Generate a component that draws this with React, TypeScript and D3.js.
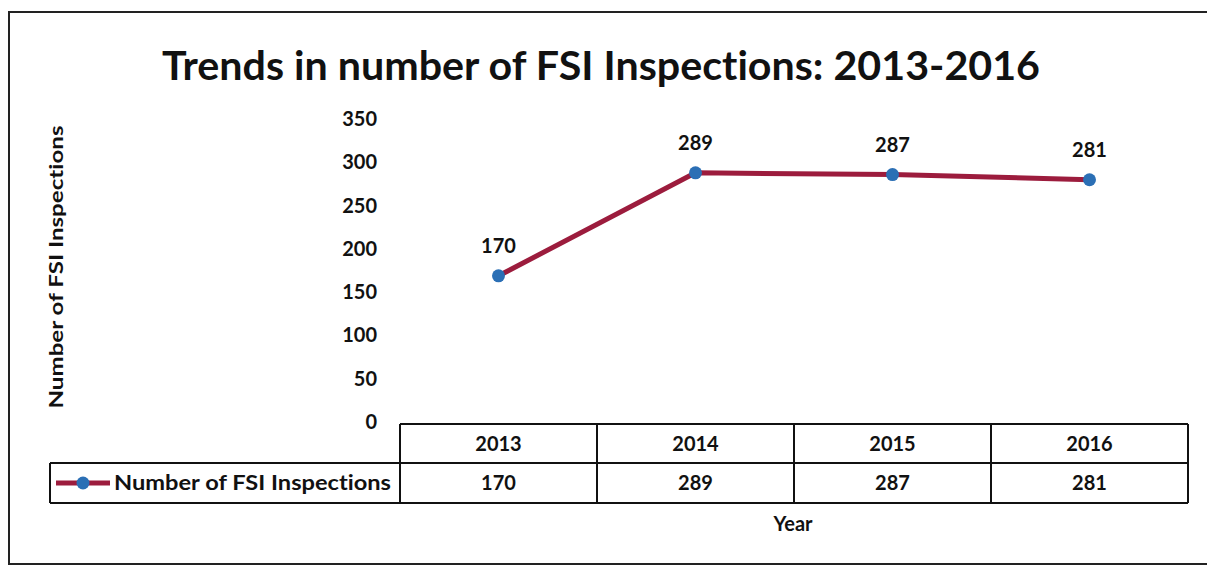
import React from "react";
import * as d3 from "d3";

const years = ["2013", "2014", "2015", "2016"];
const inspections = [170, 289, 287, 281];
const yTicks = [0, 50, 100, 150, 200, 250, 300, 350];
const seriesName = "Number of FSI Inspections";
const title = "Trends in number of FSI Inspections: 2013-2016";
const yTitle = "Number of FSI Inspections";
const xTitle = "Year";

const W = 1207;
const H = 566;
const FONT = "Lato, 'Open Sans', sans-serif";
const LINE = "#9c1c3d";
const MARK = "#2b6fb5";
const FS = 20;

export default function App() {
  const x = d3.scaleBand<string>().domain(years).range([400, 1188]);
  const y = d3.scaleLinear().domain([0, 350]).range([423, 120]);
  const cx = (d: string) => (x(d) as number) + x.bandwidth() / 2;
  const pts = years.map((yr, i) => [cx(yr), y(inspections[i])] as [number, number]);
  const path = d3.line()(pts) || "";
  const tTop = 424, tMid = 463, tBot = 503, legL = 50;

  return (
    <svg width={W} height={H} style={{ position: "absolute", left: 0, top: 0, background: "#fff", fontVariantLigatures: "none", fontFeatureSettings: "'liga' 0" }} fontFamily={FONT}>
      <rect x={0} y={0} width={W} height={H} fill="#fff" />
      <rect x={9} y={12} width={1230} height={552} fill="none" stroke="#222" strokeWidth={2} />
      <text x={601} y={80} textAnchor="middle" fontSize={41} fontWeight="bold" fill="#111" textLength={878} lengthAdjust="spacingAndGlyphs">{title}</text>
      <text transform="translate(63,267) rotate(-90)" textAnchor="middle" fontSize={19} fontWeight="bold" fill="#111" textLength={283} lengthAdjust="spacingAndGlyphs">{yTitle}</text>
      {yTicks.map((t) => (
        <text key={t} x={377} y={y(t) + 6} textAnchor="end" fontSize={FS} fontWeight="bold" fill="#111">{t}</text>
      ))}
      <path d={path} fill="none" stroke={LINE} strokeWidth={5} strokeLinejoin="round" />
      {pts.map((p, i) => (
        <g key={i}>
          <circle cx={p[0]} cy={p[1]} r={6.5} fill={MARK} />
          <text x={p[0]} y={p[1] - 23} textAnchor="middle" fontSize={FS} fontWeight="bold" fill="#111">{inspections[i]}</text>
        </g>
      ))}
      {/* data table */}
      <g stroke="#111" strokeWidth={2} fill="none">
        <line x1={400} x2={1188} y1={tTop} y2={tTop} />
        <line x1={legL} x2={1188} y1={tMid} y2={tMid} />
        <line x1={legL} x2={1188} y1={tBot} y2={tBot} />
        <line x1={legL} x2={legL} y1={tMid} y2={tBot} />
        {years.map((yr) => (
          <line key={yr} x1={x(yr) as number} x2={x(yr) as number} y1={tTop} y2={tBot} />
        ))}
        <line x1={1188} x2={1188} y1={tTop} y2={tBot} />
      </g>
      {years.map((yr, i) => (
        <g key={yr}>
          <text x={cx(yr)} y={(tTop + tMid) / 2 + 7} textAnchor="middle" fontSize={FS} fontWeight="bold" fill="#111">{yr}</text>
          <text x={cx(yr)} y={(tMid + tBot) / 2 + 7} textAnchor="middle" fontSize={FS} fontWeight="bold" fill="#111">{inspections[i]}</text>
        </g>
      ))}
      <line x1={56} x2={110} y1={483} y2={483} stroke={LINE} strokeWidth={5} />
      <circle cx={83} cy={483} r={6.5} fill={MARK} />
      <text x={114} y={490} fontSize={FS} fontWeight="bold" fill="#111" textLength={277} lengthAdjust="spacingAndGlyphs">{seriesName}</text>
      <text x={793} y={531} textAnchor="middle" fontSize={FS} fontWeight="bold" fill="#111">{xTitle}</text>
    </svg>
  );
}
